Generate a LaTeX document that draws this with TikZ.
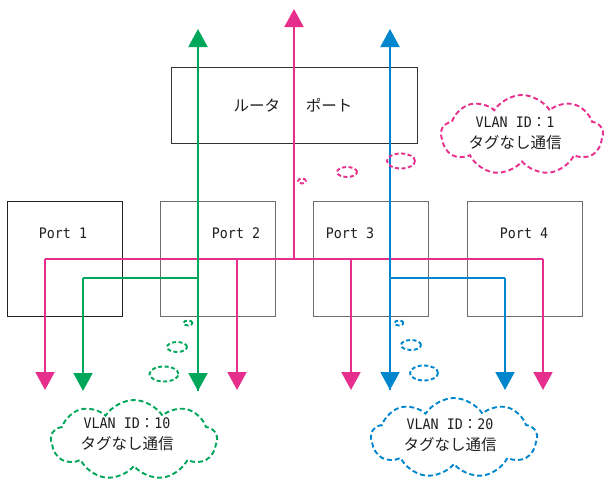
\documentclass[tikz,border=0pt]{standalone}
\usepackage{fontspec}
\setmainfont[FakeStretch=0.92]{DejaVu Sans Mono}
\newfontfamily\jpf{Noto Sans CJK JP}
\usetikzlibrary{arrows.meta,shapes.symbols,shapes.geometric}
\definecolor{vpink}{RGB}{230,46,140}
\definecolor{vgreen}{RGB}{0,166,90}
\definecolor{vblue}{RGB}{0,134,204}
\definecolor{txt}{RGB}{30,30,30}
\definecolor{edgeA}{RGB}{51,51,51}
\definecolor{edgeB}{RGB}{34,34,34}
\definecolor{edgeC}{RGB}{110,110,110}
\newcommand{\jpbig}[1]{{\jpf\fontsize{15.5}{21}\selectfont #1}}
\tikzset{
  portbox/.style={draw=#1, line width=0.9pt, minimum width=115pt, minimum height=115pt, inner sep=0pt},
  portlab/.style={text=txt, inner sep=0pt, font=\fontsize{14.5}{17}\selectfont},
  vline/.style={draw=#1, line width=2pt},
  varrow/.style={draw=#1, line width=2pt, -{Triangle[width=19pt,length=18pt]}},
  cloudy/.style={cloud, cloud puffs=9, cloud puff arc=115, draw=#1, line width=1.9pt,
    dash pattern=on 5pt off 3pt, inner sep=0pt},
  bub/.style={ellipse, draw=#1, line width=1.9pt, dash pattern=on 4pt off 2.5pt, inner sep=0pt},
  cloudlab/.style={text=txt, align=center, inner sep=0pt, font=\fontsize{14.5}{21}\selectfont}
}
\begin{document}
\begin{tikzpicture}[x=1pt,y=-1pt]
\useasboundingbox (0,0) rectangle (608,482);
% boxes
\node[portbox=edgeA, minimum width=246pt, minimum height=76pt] (router) at (294,105) {};
\node[portbox=edgeB] (port1) at (64.5,258.5) {};
\node[portbox=edgeC] (port2) at (217.5,258.5) {};
\node[portbox=edgeC] (port3) at (370.5,258.5) {};
\node[portbox=edgeC] (port4) at (524.5,258.5) {};
\node[text=txt, inner sep=0pt, font=\jpf\fontsize{15.5}{18}\selectfont] (rlab) at (293,105) {ルータ\hspace{26pt}ポート};
\node[portlab] (l1) at (63,233) {Port 1};
\node[portlab] (l2) at (236,233) {Port 2};
\node[portlab] (l3) at (350,233) {Port 3};
\node[portlab] (l4) at (524,233) {Port 4};
% pink coordinates
\coordinate (pTop) at (294,9);
\coordinate (pJ) at (294,259);
\coordinate (pL) at (45,259);
\coordinate (pR) at (543,259);
\coordinate (pB2) at (237,259);
\coordinate (pB3) at (351,259);
\coordinate (pD1) at (45,390);
\coordinate (pD2) at (237,390);
\coordinate (pD3) at (351,390);
\coordinate (pD4) at (543,390);
% green coordinates
\coordinate (gTop) at (198,29);
\coordinate (gBot) at (198,391);
\coordinate (gJ) at (198,278);
\coordinate (gL) at (83,278);
\coordinate (gD) at (83,391);
% blue coordinates
\coordinate (bTop) at (390,29);
\coordinate (bBot) at (390,390);
\coordinate (bJ) at (390,278);
\coordinate (bR) at (505,278);
\coordinate (bD) at (505,390);
% pink lines
\draw[vline=vpink] (pL) -- (pR);
\draw[varrow=vpink] (pJ) -- (pTop);
\draw[varrow=vpink] (pL) -- (pD1);
\draw[varrow=vpink] (pB2) -- (pD2);
\draw[varrow=vpink] (pB3) -- (pD3);
\draw[varrow=vpink] (pR) -- (pD4);
% green lines
\draw[varrow=vgreen] (gBot) -- (gTop);
\draw[varrow=vgreen] (gJ) -- (gBot);
\draw[vline=vgreen] (gJ) -- (gL);
\draw[varrow=vgreen] (gL) -- (gD);
% blue lines
\draw[varrow=vblue] (bBot) -- (bTop);
\draw[varrow=vblue] (bJ) -- (bBot);
\draw[vline=vblue] (bJ) -- (bR);
\draw[varrow=vblue] (bR) -- (bD);
% clouds
\node[cloudy=vpink, minimum width=162pt, minimum height=80pt] (c1) at (522,135) {};
\node[cloudy=vgreen, minimum width=166pt, minimum height=80pt] (c10) at (134,440) {};
\node[cloudy=vblue, minimum width=166pt, minimum height=80pt] (c20) at (454,438) {};
% bubbles
\node[bub=vpink, minimum width=8pt, minimum height=5pt] (pb1) at (302,181) {};
\node[bub=vpink, minimum width=20pt, minimum height=10pt] (pb2) at (347,172) {};
\node[bub=vpink, minimum width=28pt, minimum height=15pt] (pb3) at (401,161) {};
\node[bub=vgreen, minimum width=9pt, minimum height=5pt] (gb1) at (188,323) {};
\node[bub=vgreen, minimum width=20pt, minimum height=10pt] (gb2) at (177,347) {};
\node[bub=vgreen, minimum width=29pt, minimum height=15pt] (gb3) at (164,374) {};
\node[bub=vblue, minimum width=9pt, minimum height=5pt] (bb1) at (399,323) {};
\node[bub=vblue, minimum width=20pt, minimum height=10pt] (bb2) at (411,345) {};
\node[bub=vblue, minimum width=28pt, minimum height=15pt] (bb3) at (424,373) {};
% cloud texts
\node[cloudlab] (t1) at (515,133) {VLAN ID{\jpf ：}1\\\jpbig{タグなし通信}};
\node[cloudlab] (t10) at (127,434) {VLAN ID{\jpf ：}10\\\jpbig{タグなし通信}};
\node[cloudlab] (t20) at (450,435) {VLAN ID{\jpf ：}20\\\jpbig{タグなし通信}};
\end{tikzpicture}
\end{document}
